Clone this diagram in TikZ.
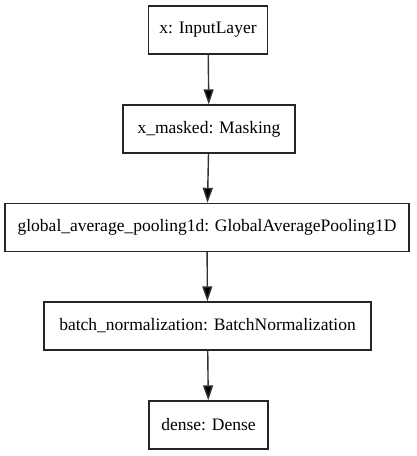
\documentclass[tikz,border=0pt]{standalone}
\usepackage{fontspec}
\setmainfont{Liberation Serif}
\newfontfamily\layerfont{Liberation Serif}
\usetikzlibrary{arrows.meta}
\begin{document}
\begin{tikzpicture}[x=1pt,y=1pt,
  layer/.style={draw=black!85, line width=1.4pt, minimum height=48pt, inner sep=0pt,
    font=\layerfont\fontsize{17.5}{20}\selectfont},
  flow/.style={draw=black!80, line width=1.4pt,
    -{Triangle[length=15pt,width=10pt,fill=black]}}]
\useasboundingbox (0,0) rectangle (416,-456);
\node[layer, minimum width=119pt] (inp) at (208,-30) {x: InputLayer};
\node[layer, minimum width=172pt] (mask) at (209,-129) {x\_masked: Masking};
\node[layer, minimum width=404pt] (gap) at (207,-227.5) {global\_average\_pooling1d: GlobalAveragePooling1D};
\node[layer, minimum width=327pt] (bn) at (207.5,-326) {batch\_normalization: BatchNormalization};
\node[layer, minimum width=119pt] (dense) at (208.5,-425) {dense: Dense};
\draw[flow] (inp) -- (mask);
\draw[flow] (mask) -- (gap);
\draw[flow] (gap) -- (bn);
\draw[flow] (bn) -- (dense);
\end{tikzpicture}
\end{document}
